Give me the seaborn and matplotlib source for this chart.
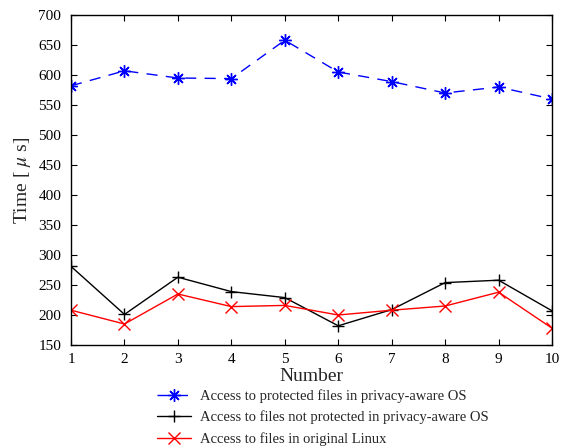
import matplotlib
matplotlib.use("Agg")
import matplotlib.pyplot as plt
import seaborn as sns
import pandas as pd

runs = list(range(1, 11))
protected_os = [582, 607, 595, 594, 658, 605, 589, 570, 580, 560]
unprotected_os = [281, 201, 263, 239, 229, 182, 209, 254, 258, 207]
original_linux = [208, 185, 235, 214, 216, 200, 208, 215, 238, 178]

series_labels = [
    "Access to protected files in privacy-aware OS",
    "Access to files not protected in privacy-aware OS",
    "Access to files in original Linux",
]
y_ticks = list(range(150, 701, 50))

sns.set_theme(style="ticks")
plt.rcParams["font.family"] = ["Liberation Serif", "DejaVu Serif"]
plt.rcParams["mathtext.fontset"] = "stix"

fig = plt.figure(figsize=(5.61, 4.48), dpi=100)
ax = fig.add_axes([0.1266, 0.2299, 0.8574, 0.7366])

df = pd.DataFrame({
    "Number": runs * 3,
    "Time": protected_os + unprotected_os + original_linux,
    "Series": sum([[s] * len(runs) for s in series_labels], []),
})

styles = [
    dict(color="#0000ff", marker=(8, 2, 0), ls=(0, (8, 6))),
    dict(color="black", marker="+", ls="-"),
    dict(color="#ff0000", marker="x", ls="-"),
]
for label, st in zip(series_labels, styles):
    sub = df[df["Series"] == label]
    sns.lineplot(data=sub, x="Number", y="Time", ax=ax, color=st["color"],
                 marker=st["marker"], markersize=9, markeredgewidth=1.0,
                 markeredgecolor=st["color"], linestyle=st["ls"], linewidth=1.0,
                 label=label, legend=False)

ax.set_xlim(1, 10)
ax.set_ylim(150, 700)
ax.set_xticks(runs)
ax.set_yticks(y_ticks)
ax.tick_params(axis="both", direction="in", length=4, width=0.8, labelsize=11,
               top=True, right=True, colors="black")
ax.tick_params(axis="y", pad=7)
ax.tick_params(axis="x", pad=5.5)
for sp in ax.spines.values():
    sp.set_visible(True)
    sp.set_linewidth(1.0)
    sp.set_color("black")
ax.set_xlabel("Number", fontsize=14, labelpad=1.5)
ax.set_ylabel(r"Time [ $\mu$ s]", fontsize=14, labelpad=4)

handles, labels = ax.get_legend_handles_labels()
fig.legend(handles, labels, loc="upper left", bbox_to_anchor=(0.27, 0.145),
           frameon=False, fontsize=10.5, handlelength=2.3, labelspacing=0.55,
           borderaxespad=0, handletextpad=0.6)

fig.savefig("out.png", dpi=100)
